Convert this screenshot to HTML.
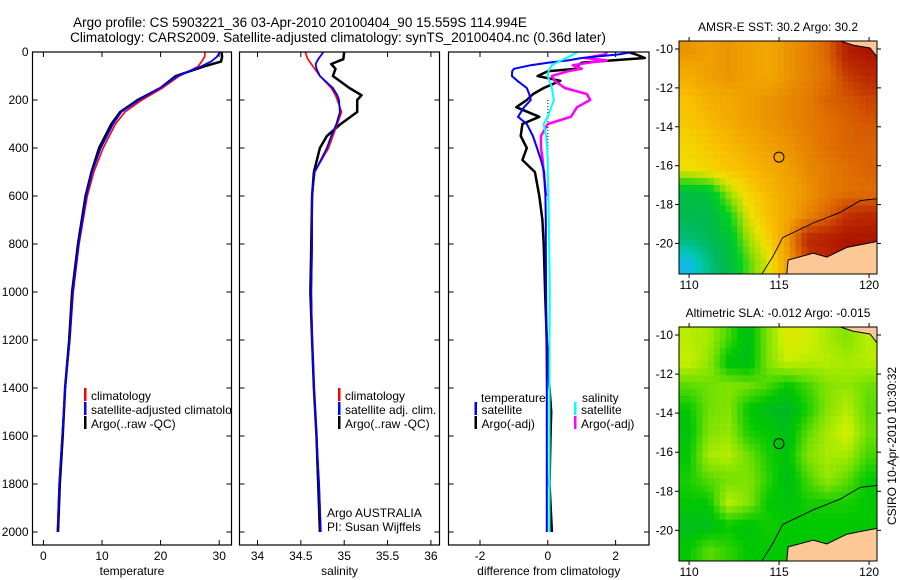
<!DOCTYPE html>
<html><head><meta charset="utf-8"><style>
html,body{margin:0;padding:0;background:#fff;}
svg{display:block;font-family:"Liberation Sans",sans-serif;}
</style></head><body>
<svg id="fig" width="900" height="580" viewBox="0 0 900 580">
<text x="300" y="27" font-size="13.5" text-anchor="middle">Argo profile: CS 5903221_36 03-Apr-2010 20100404_90 15.559S 114.994E</text>
<text x="338" y="42" font-size="13.5" text-anchor="middle">Climatology: CARS2009. Satellite-adjusted climatology: synTS_20100404.nc (0.36d later)</text>
</svg>
<script>
// ---------- data ----------
const depthT = [0,20,40,60,100,150,200,250,300,400,500,600,800,1000,1200,1400,1600,1800,2000];
const tempClim = [27.6,27.5,27.0,26.4,23.2,20.3,16.8,13.9,12.3,10.2,8.6,7.5,6.1,5.1,4.5,3.7,3.2,2.7,2.4];
const tempSat = [30.1,29.6,28.6,26.9,22.9,19.9,16.3,13.3,11.9,9.8,8.3,7.3,6.0,5.0,4.5,3.7,3.2,2.7,2.4];
const tempArgo = [30.4,30.5,30.3,27.4,22.6,20.0,16.1,13.1,11.6,9.5,8.2,7.2,5.9,4.9,4.4,3.7,3.3,2.8,2.5];

const depthS = [0,30,50,70,100,150,180,200,250,300,350,400,500,600,800,1000,1200,1400,1600,1800,2000];
const salClim = [34.55,34.58,34.62,34.66,34.72,34.85,34.9,34.92,34.97,34.92,34.87,34.82,34.66,34.63,34.63,34.62,34.63,34.65,34.68,34.71,34.73];
const salSat = [34.76,34.7,34.67,34.68,34.72,34.87,34.92,34.94,34.95,34.91,34.85,34.8,34.66,34.63,34.63,34.62,34.63,34.65,34.68,34.71,34.73];
const salArgo = [35.0,34.99,34.85,34.9,34.87,35.06,35.2,35.15,35.15,34.96,34.8,34.72,34.65,34.63,34.62,34.61,34.63,34.65,34.68,34.7,34.72];

const depthD = [0,10,25,35,45,55,70,80,100,120,150,175,200,230,270,300,350,400,450,500,600,700,800,1000,1200,1400,1500,1600,1800,2000];
const dTsat = [2.5,2.1,1.0,0.6,0.0,-0.5,-1.0,-1.05,-1.06,-0.9,-0.62,-0.55,-0.5,-0.7,-0.88,-0.62,-0.44,-0.32,-0.2,-0.11,-0.07,-0.06,-0.06,-0.05,-0.04,-0.03,-0.03,-0.03,-0.03,-0.03];
const dTargo = [2.37,2.6,2.86,1.9,1.0,0.9,0.85,0.0,-0.3,0.37,-0.12,-0.43,-0.62,-0.93,-0.25,-0.75,-0.8,-0.62,-0.75,-0.38,-0.25,-0.16,-0.12,-0.08,-0.03,0.05,0.1,0.08,0.05,0.12];
const dSsat = [0.87,0.75,0.55,0.4,0.25,0.12,0.05,0.02,0.0,0.05,0.12,0.15,0.18,0.1,0.0,-0.12,-0.05,-0.02,0.0,0.0,0.02,0.03,0.04,0.06,0.05,0.05,0.05,0.05,0.05,0.05];
const dSargo = [1.74,1.7,1.1,1.74,1.2,0.74,1.0,0.6,0.12,0.2,0.5,1.15,1.25,0.86,0.68,0.0,-0.2,-0.2,-0.15,-0.12,-0.05,null,null,null,null,null,null,null,null,null];

const yTicks = [0,200,400,600,800,1000,1200,1400,1600,1800,2000];
const tTicks = [0,10,20,30];
const sTicks = [34,34.5,35,35.5,36];
const dTicks = [-2,0,2];
const lonTicks = [110,115,120];
const latTicks = [-10,-12,-14,-16,-18,-20];

// SST normalised field rows from -9.6 (north) to -21.6 (south), 10 columns west->east
const sstGrid = [
 [0.72,0.70,0.72,0.70,0.68,0.72,0.75,0.80,0.92,0.95],
 [0.66,0.70,0.72,0.70,0.68,0.72,0.75,0.78,0.86,0.90],
 [0.60,0.65,0.68,0.70,0.72,0.74,0.76,0.80,0.82,0.85],
 [0.58,0.62,0.66,0.70,0.72,0.74,0.76,0.78,0.80,0.82],
 [0.55,0.58,0.62,0.66,0.70,0.72,0.75,0.78,0.80,0.80],
 [0.52,0.55,0.58,0.62,0.66,0.70,0.74,0.76,0.78,0.80],
 [0.28,0.30,0.45,0.55,0.62,0.68,0.72,0.76,0.78,0.78],
 [0.25,0.26,0.35,0.50,0.60,0.68,0.75,0.80,0.88,0.90],
 [0.20,0.24,0.30,0.45,0.55,0.72,0.90,0.92,0.95,0.95],
 [0.04,0.18,0.27,0.40,0.50,0.70,0.85,0.90,0.95,0.95]];
const slaGrid = [
 [0.75,0.70,0.45,0.20,0.60,0.90,0.85,0.70,0.60,0.75],
 [0.80,0.65,0.25,0.20,0.60,0.80,0.75,0.75,0.70,0.75],
 [0.50,0.55,0.60,0.55,0.45,0.30,0.45,0.60,0.65,0.55],
 [0.30,0.55,0.60,0.30,0.20,0.15,0.35,0.60,0.75,0.50],
 [0.25,0.60,0.65,0.35,0.30,0.20,0.50,0.70,0.85,0.55],
 [0.30,0.70,0.75,0.55,0.35,0.25,0.60,0.70,0.70,0.45],
 [0.35,0.50,0.55,0.60,0.40,0.20,0.45,0.65,0.50,0.30],
 [0.30,0.30,0.75,0.60,0.30,0.25,0.35,0.35,0.35,0.30],
 [0.20,0.20,0.30,0.25,0.35,0.30,0.30,0.30,0.30,0.30],
 [0.30,0.50,0.40,0.30,0.30,0.30,0.30,0.30,0.30,0.30]];
const coastLon = [115.43,115.5,116.9,117.65,118.76,119.87,120.44,120.44];
const coastLat = [-21.57,-20.85,-20.5,-20.7,-20.2,-20.0,-19.9,-21.57];
const islandLon = [118.4,119.1,120.05,120.44,120.44];
const islandLat = [-9.59,-9.8,-9.95,-10.4,-9.59];
const contourLon = [114.04,114.67,115.2,116.9,118.4,119.5,120.44];
const contourLat = [-21.57,-20.65,-19.7,-18.95,-18.4,-17.8,-17.7];
const argoLon = 114.994, argoLat = -15.559;

// ---------- helpers ----------
const NS='http://www.w3.org/2000/svg';
const svg=document.getElementById('fig');
function mk(tag,attrs,parent){const e=document.createElementNS(NS,tag);for(const k in attrs)e.setAttribute(k,attrs[k]);(parent||svg).appendChild(e);return e;}
const yD = d => 52 + d*0.24;
const x1 = t => 43.4 + t*5.86;
const x2 = s => 257.5 + (s-34)*86.7;
const x3 = v => 547.8 + v*33.9;
const TOP=52, BOT=545;

function panel(name,L,R,xf,ticks,fmt,label,showY){
  const g=mk('g',{});
  
  
  const cp=mk('clipPath',{id:'clip-'+name},g);
  mk('rect',{x:L,y:TOP,width:R-L,height:BOT-TOP},cp);
  yTicks.forEach(d=>{
    const y=yD(d);
    mk('line',{x1:L,y1:y,x2:L+5,y2:y,stroke:'#000'},g);
    mk('line',{x1:R,y1:y,x2:R-5,y2:y,stroke:'#000'},g);
    if(showY){const t=mk('text',{x:L-4,y:y+4,'font-size':12,'text-anchor':'end'},g);t.textContent=d;
      
      }
  });
  ticks.forEach(v=>{
    const x=xf(v);
    mk('line',{x1:x,y1:BOT,x2:x,y2:BOT-5,stroke:'#000'},g);
    mk('line',{x1:x,y1:TOP,x2:x,y2:TOP+5,stroke:'#000'},g);
    const t=mk('text',{x:x,y:BOT+15,'font-size':12,'text-anchor':'middle'},g);t.textContent=fmt(v);
    
    
  });
  const lt=mk('text',{x:(L+R)/2,y:575,'font-size':12,'text-anchor':'middle'},g);lt.textContent=label;
  
  
  const inner=mk('g',{'clip-path':'url(#clip-'+name+')'},g);
  mk('rect',{x:L,y:TOP,width:R-L,height:BOT-TOP,fill:'none',stroke:'#000','stroke-width':1.2},g);
  return inner;
}
function line(g,xf,depths,vals,color,w,name){
  let pts=[];
  depths.forEach((d,i)=>{if(vals[i]!==null&&vals[i]!==undefined)pts.push(xf(vals[i]).toFixed(1)+','+yD(d).toFixed(1));});
  const p=mk('polyline',{points:pts.join(' '),fill:'none',stroke:color,'stroke-width':w,'stroke-linejoin':'round'},g);
  
  
}
function legend(g,x,y,color,text,name){
  mk('rect',{x:x,y:y-10,width:2.5,height:13,fill:color},g);
  const t=mk('text',{x:x+7,y:y+2,'font-size':12},g);t.textContent=text;
  
  
}

// ---------- profile panels ----------
const g1=panel('temperature-panel',32.5,231.5,x1,tTicks,v=>v,'temperature',true);
line(g1,x1,depthT,tempArgo,'#000',2.5,'argo-temperature-line');
line(g1,x1,depthT,tempClim,'#f00',1.6,'climatology-temperature-line');
line(g1,x1,depthT,tempSat,'#00f',1.8,'satellite-temperature-line');
legend(g1,84,398,'#f00','climatology','legend-climatology');
legend(g1,84,412,'#00f','satellite-adjusted climatology','legend-satellite');
legend(g1,84,426,'#000','Argo(..raw -QC)','legend-argo');

const g2=panel('salinity-panel',239.5,439.5,x2,sTicks,v=>v,'salinity',false);
line(g2,x2,depthS,salArgo,'#000',2.5,'argo-salinity-line');
line(g2,x2,depthS,salClim,'#f00',1.6,'climatology-salinity-line');
line(g2,x2,depthS,salSat,'#00f',1.8,'satellite-salinity-line');
legend(g2,338,398,'#f00','climatology','legend-climatology');
legend(g2,338,412,'#00f','satellite adj. clim.','legend-satellite');
legend(g2,338,426,'#000','Argo(..raw -QC)','legend-argo');
let tA=mk('text',{x:327,y:517,'font-size':12},g2);tA.textContent='Argo AUSTRALIA';


let tP=mk('text',{x:327,y:531,'font-size':12},g2);tP.textContent='PI: Susan Wijffels';



const g3=panel('difference-panel',448.5,649,x3,dTicks,v=>v,'difference from climatology',false);
mk('line',{x1:x3(0),y1:yD(200),x2:x3(0),y2:yD(620),stroke:'#000','stroke-dasharray':'1,2','stroke-width':1},g3);
line(g3,x3,depthD,dTargo,'#000',2.5,'argo-temperature-diff-line');
line(g3,x3,depthD,dSargo,'#f0f',2.5,'argo-salinity-diff-line');
line(g3,x3,depthD,dTsat,'#00f',2,'satellite-temperature-diff-line');
line(g3,x3,depthD,dSsat,'#0ff',2,'satellite-salinity-diff-line');
let th=mk('text',{x:481,y:402,'font-size':12},g3);th.textContent='temperature';


let sh=mk('text',{x:582,y:402,'font-size':12},g3);sh.textContent='salinity';


legend(g3,474.5,412,'#00f','satellite','legend-temp-satellite');
legend(g3,474.5,426,'#000','Argo(-adj)','legend-temp-argo');
legend(g3,574,412,'#0ff','satellite','legend-sal-satellite');
legend(g3,574,426,'#f0f','Argo(-adj)','legend-sal-argo');

// ---------- maps ----------
function lerpColor(stops,v){
  v=Math.max(0,Math.min(1,v));
  for(let i=1;i<stops.length;i++){
    if(v<=stops[i][0]){
      const a=stops[i-1],b=stops[i],f=(v-a[0])/(b[0]-a[0]||1);
      const c=[0,1,2].map(k=>Math.round(a[1][k]+(b[1][k]-a[1][k])*f));
      return 'rgb('+c.join(',')+')';
    }
  }
  return 'rgb('+stops[stops.length-1][1].join(',')+')';
}
const sstStops=[[0,[32,176,255]],[0.1,[0,200,192]],[0.25,[0,184,80]],[0.35,[0,208,32]],[0.45,[160,224,0]],[0.52,[240,224,0]],[0.6,[248,192,0]],[0.7,[240,160,0]],[0.78,[224,112,0]],[0.88,[192,48,0]],[1,[160,0,0]]];
const slaStops=[[0,[0,168,80]],[0.3,[0,200,0]],[0.55,[112,224,0]],[0.8,[200,240,0]],[1,[240,224,0]]];

function sample(grid,r,c){
  const R=grid.length,C=grid[0].length;
  r=Math.max(0,Math.min(R-1,r));c=Math.max(0,Math.min(C-1,c));
  const r0=Math.floor(r),c0=Math.floor(c),r1=Math.min(R-1,r0+1),c1=Math.min(C-1,c0+1);
  const fr=r-r0,fc=c-c0;
  return grid[r0][c0]*(1-fr)*(1-fc)+grid[r0][c1]*(1-fr)*fc+grid[r1][c0]*fr*(1-fc)+grid[r1][c1]*fr*fc;
}

function drawMap(name,title,top,bot,grid,stops){
  const L=679,R=877,lon0=109.44,lon1=120.44,lat0=-9.59,lat1=-21.57;
  const lx=lo=>L+(lo-lon0)/(lon1-lon0)*(R-L);
  const ly=la=>top+(la-lat0)/(lat1-lat0)*(bot-top);
  const g=mk('g',{});
  
  
  const cp=mk('clipPath',{id:'clip-'+name},g);
  mk('rect',{x:L,y:top,width:R-L,height:bot-top},cp);
  const inner=mk('g',{'clip-path':'url(#clip-'+name+')'},g);
  const rows=grid.length,cols=grid[0].length;
  const N=34;
  const cw=(R-L)/N,ch=(bot-top)/N;
  for(let i=0;i<N;i++)for(let j=0;j<N;j++){
    const v=sample(grid,(i+0.5)/N*rows-0.5,(j+0.5)/N*cols-0.5);
    const c=mk('rect',{x:L+j*cw,y:top+i*ch,width:cw+0.6,height:ch+0.6,fill:lerpColor(stops,v)},inner);
    
    
  }
  const poly=(lons,lats)=>lons.map((lo,i)=>lx(lo).toFixed(1)+','+ly(lats[i]).toFixed(1)).join(' ');
  const land=mk('polygon',{points:poly(coastLon,coastLat),fill:'#fcc896',stroke:'#000','stroke-width':1},inner);
  
  
  const isl=mk('polygon',{points:poly(islandLon,islandLat),fill:'#fcc896',stroke:'#000','stroke-width':1},inner);
  
  
  const ct=mk('polyline',{points:poly(contourLon,contourLat),fill:'none',stroke:'#000','stroke-width':0.9},inner);
  
  
  const circ=mk('circle',{cx:lx(argoLon),cy:ly(argoLat),r:5,fill:'none',stroke:'#000','stroke-width':1},g);
  
  
  mk('rect',{x:L,y:top,width:R-L,height:bot-top,fill:'none',stroke:'#000','stroke-width':1},g);
  latTicks.forEach(la=>{
    const y=ly(la);
    mk('line',{x1:L-4,y1:y,x2:L,y2:y,stroke:'#000'},g);
    mk('line',{x1:R,y1:y,x2:R+4,y2:y,stroke:'#000'},g);
    const t=mk('text',{x:L-6,y:y+4,'font-size':12,'text-anchor':'end'},g);t.textContent=la;
    
    
  });
  lonTicks.forEach(lo=>{
    const x=lx(lo);
    mk('line',{x1:x,y1:bot,x2:x,y2:bot+4,stroke:'#000'},g);
    mk('line',{x1:x,y1:top-4,x2:x,y2:top,stroke:'#000'},g);
    const t=mk('text',{x:x,y:bot+15,'font-size':12,'text-anchor':'middle'},g);t.textContent=lo;
    
    
  });
  const tt=mk('text',{x:(L+R)/2,y:top-10,'font-size':12,'text-anchor':'middle'},g);tt.textContent=title;
  
  
}
drawMap('sst-map','AMSR-E SST: 30.2 Argo: 30.2',41,274,sstGrid,sstStops);
drawMap('sla-map','Altimetric SLA: -0.012 Argo: -0.015',327,561,slaGrid,slaStops);

const cs=mk('text',{x:0,y:0,'font-size':12,'text-anchor':'middle',transform:'translate(896,446) rotate(-90)'});
cs.textContent='CSIRO 10-Apr-2010 10:30:32';


</script>
</body></html>
